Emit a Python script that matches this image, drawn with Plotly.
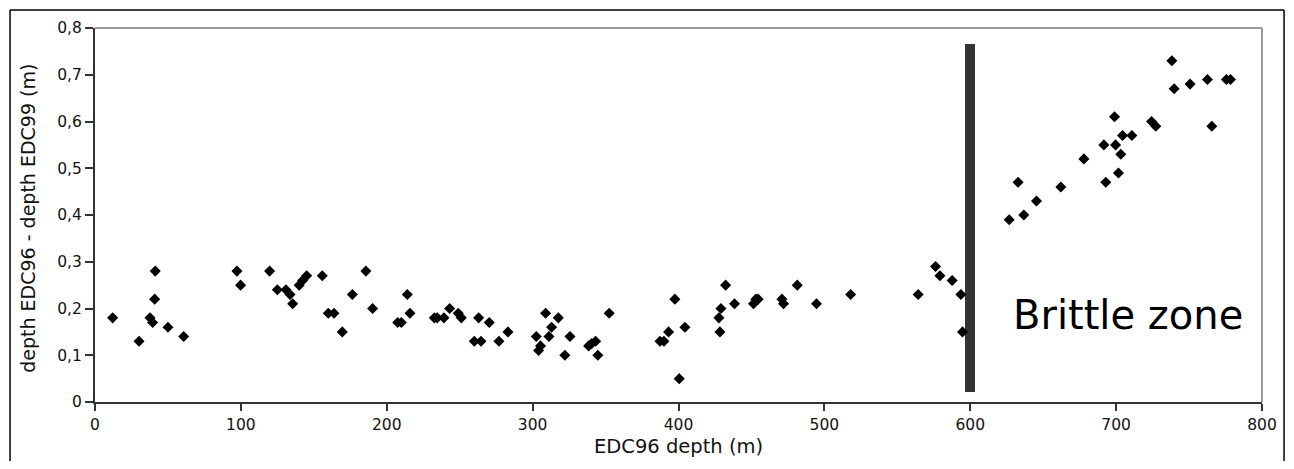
import plotly.graph_objects as go

# === Data ===
edc96_depth = [
    12.1, 30.2, 37.7, 39.5, 40.9, 41.3, 50.0, 60.8,
    97.3, 99.8, 119.7, 125.0, 130.9, 133.7, 135.5, 140.0, 142.3, 145.1,
    155.8, 159.9, 163.8, 169.5, 176.4, 185.7, 190.3,
    207.5, 210.0, 214.1, 215.9, 232.6, 234.6, 239.2, 243.1, 249.0, 251.1,
    260.0, 263.0, 264.6, 270.3, 276.9, 283.1,
    302.5, 304.1, 305.4, 308.9, 311.2, 313.0, 317.6, 322.1, 325.6,
    338.4, 340.5, 343.2, 344.7, 352.5,
    387.3, 390.0, 393.2, 397.5, 400.5, 404.4,
    427.7, 428.4, 429.1, 432.3, 438.4, 451.4, 453.0, 454.6,
    470.9, 472.0, 481.4, 494.6, 518.0,
    564.3, 576.2, 579.2, 587.6, 593.6, 594.7,
    626.7, 632.8, 636.7, 645.4, 662.1, 677.9,
    691.6, 692.9, 698.9, 699.6, 701.6, 703.2, 704.4, 710.8,
    724.3, 727.2, 738.2, 739.8, 750.7, 762.6, 765.6, 775.6, 778.4,
]
depth_diff = [
    0.18, 0.13, 0.18, 0.17, 0.22, 0.28, 0.16, 0.14,
    0.28, 0.25, 0.28, 0.24, 0.24, 0.23, 0.21, 0.25, 0.26, 0.27,
    0.27, 0.19, 0.19, 0.15, 0.23, 0.28, 0.20,
    0.17, 0.17, 0.23, 0.19, 0.18, 0.18, 0.18, 0.20, 0.19, 0.18,
    0.13, 0.18, 0.13, 0.17, 0.13, 0.15,
    0.14, 0.11, 0.12, 0.19, 0.14, 0.16, 0.18, 0.10, 0.14,
    0.12, 0.125, 0.13, 0.10, 0.19,
    0.13, 0.13, 0.15, 0.22, 0.05, 0.16,
    0.18, 0.15, 0.20, 0.25, 0.21, 0.21, 0.22, 0.22,
    0.22, 0.21, 0.25, 0.21, 0.23,
    0.23, 0.29, 0.27, 0.26, 0.23, 0.15,
    0.39, 0.47, 0.40, 0.43, 0.46, 0.52,
    0.55, 0.47, 0.61, 0.55, 0.49, 0.53, 0.57, 0.57,
    0.60, 0.59, 0.73, 0.67, 0.68, 0.69, 0.59, 0.69, 0.69,
]

# brittle zone marker bar
brittle_x = [600]
brittle_bottom = [0.021]
brittle_top = [0.766]

x_ticks = [0, 100, 200, 300, 400, 500, 600, 700, 800]
y_ticks = [0, 0.1, 0.2, 0.3, 0.4, 0.5, 0.6, 0.7, 0.8]
y_ticktext = ["0", "0,1", "0,2", "0,3", "0,4", "0,5", "0,6", "0,7", "0,8"]

FONT = "DejaVu Sans, sans-serif"

fig = go.Figure()

fig.add_trace(go.Bar(
    x=brittle_x,
    y=[t - b for t, b in zip(brittle_top, brittle_bottom)],
    base=brittle_bottom,
    width=6.9,
    marker=dict(color="#333333", line=dict(width=0)),
    showlegend=False,
))

fig.add_trace(go.Scatter(
    x=edc96_depth,
    y=depth_diff,
    mode="markers",
    marker=dict(symbol="diamond", size=8.5, color="black", line=dict(width=0)),
    showlegend=False,
))

# gray top / right frame lines
fig.add_shape(type="line", xref="paper", yref="paper", x0=0, x1=1, y0=1, y1=1,
              line=dict(color="#999999", width=2))
fig.add_shape(type="line", xref="paper", yref="paper", x0=1, x1=1, y0=0, y1=1,
              line=dict(color="#999999", width=2))

# outer figure border (top, left, right; bottom falls outside the picture)
bx0, bx1, by0, by1 = -0.0728, 1.0189, -0.2, 1.0481
border = dict(color="black", width=1.5)
fig.add_shape(type="line", xref="paper", yref="paper", x0=bx0, x1=bx1, y0=by1, y1=by1, line=border)
fig.add_shape(type="line", xref="paper", yref="paper", x0=bx0, x1=bx0, y0=by0, y1=by1, line=border)
fig.add_shape(type="line", xref="paper", yref="paper", x0=bx1, x1=bx1, y0=by0, y1=by1, line=border)

fig.add_annotation(text="Brittle zone", x=708, y=0.187, xref="x", yref="y",
                   showarrow=False, font=dict(family=FONT, size=40, color="black"))
fig.add_annotation(text="EDC96 depth (m)", x=0.5, y=-0.12, xref="paper", yref="paper",
                   showarrow=False, yanchor="middle",
                   font=dict(family=FONT, size=19.5, color="#111111"))
fig.add_annotation(text="depth EDC96 - depth EDC99 (m)", x=-0.0574, y=0.49,
                   xref="paper", yref="paper", textangle=-90, showarrow=False,
                   xanchor="center", yanchor="middle",
                   font=dict(family=FONT, size=19, color="#111111"))

# page body adds an 8px offset, so the figure is shifted back by that amount
fig.update_layout(
    width=1282,
    height=453,
    margin=dict(l=87, r=28, t=20, b=59),
    plot_bgcolor="white",
    paper_bgcolor="white",
    font=dict(family=FONT, size=15.5, color="#111111"),
    bargap=0,
    xaxis=dict(
        range=[0, 800], tickvals=x_ticks, showgrid=False, zeroline=False,
        showline=True, linecolor="#333333", linewidth=2,
        ticks="outside", ticklen=7, tickcolor="#333333", tickwidth=1.5,
    ),
    yaxis=dict(
        range=[0, 0.8], tickvals=y_ticks, ticktext=y_ticktext,
        showgrid=False, zeroline=False,
        showline=True, linecolor="#333333", linewidth=2,
        ticks="outside", ticklen=8, tickcolor="#333333", tickwidth=1.5,
    ),
)

fig.write_html("out.html")
